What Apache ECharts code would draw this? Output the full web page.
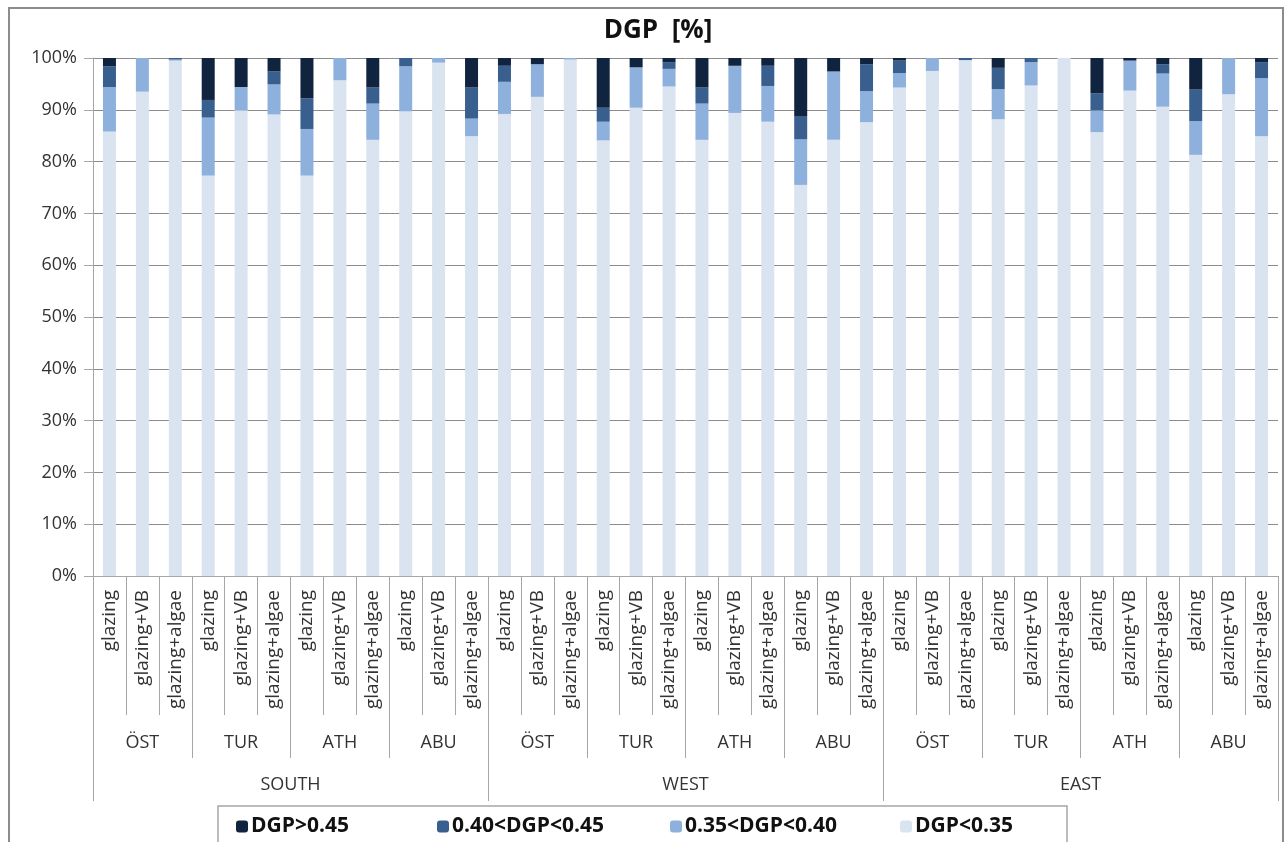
<!DOCTYPE html>
<html>
<head>
<meta charset="utf-8">
<title>DGP [%]</title>
<script src="https://cdn.jsdelivr.net/npm/echarts@6/dist/echarts.min.js"></script>
<style>
    html, body { margin: 0; padding: 0; background: #fff; }
    #chart { width: 1285px; height: 842px; }
</style>
</head>
<body>
<div id="chart"></div>
<script>
// categories, three levels
const glazingTypes = ['glazing', 'glazing+VB', 'glazing+algae']
const cities = ['ÖST', 'TUR', 'ATH', 'ABU']
const orientations = ['SOUTH', 'WEST', 'EAST']

// DGP share per bar [%], SOUTH (12) / WEST (12) / EAST (12)
const dgpBelow35 = [
    85.8, 93.5, 99.5, 77.3, 89.9, 89.1, 77.3, 95.7, 84.2, 89.7, 99.1, 84.9,
    89.2, 92.5, 99.7, 84.1, 90.4, 94.5, 84.2, 89.4, 87.7, 75.5, 84.2, 87.6,
    94.3, 97.5, 99.6, 88.2, 94.7, 100, 85.7, 93.7, 90.6, 81.3, 93.0, 84.9
]
const dgp35to40 = [
    8.6, 6.5, 0.2, 11.2, 4.5, 5.8, 9.0, 4.3, 7.0, 8.7, 0.9, 3.4,
    6.2, 6.3, 0.3, 3.6, 7.8, 3.4, 7.0, 9.1, 6.9, 8.8, 13.2, 6.0,
    2.8, 2.5, 0, 5.8, 4.5, 0, 4.2, 5.8, 6.4, 6.5, 7.0, 11.2
]
const dgp40to45 = [
    4.0, 0, 0.3, 3.4, 0, 2.5, 5.9, 0, 3.1, 1.6, 0, 6.0,
    3.1, 0, 0, 2.7, 0, 1.3, 3.1, 0, 3.9, 4.5, 0, 5.2,
    2.4, 0, 0.4, 4.1, 0.8, 0, 3.3, 0, 1.8, 6.1, 0, 3.1
]
const dgpAbove45 = [
    1.6, 0, 0, 8.1, 5.6, 2.6, 7.8, 0, 5.7, 0, 0, 5.7,
    1.5, 1.2, 0, 9.6, 1.8, 0.8, 5.7, 1.5, 1.5, 11.2, 2.6, 1.2,
    0.5, 0, 0, 1.9, 0, 0, 6.8, 0.5, 1.2, 6.1, 0, 0.8
]

const yTicks = [0, 100, 10]

const seriesNames = ['DGP>0.45', '0.40<DGP<0.45', '0.35<DGP<0.40', 'DGP<0.35']
const seriesColors = ['#10233f', '#395f8f', '#8eb0dc', '#dae3f0']

// flatten the category levels
var barLabels = []
var cityLabels = []
orientations.forEach(function () {
    cities.forEach(function (c) {
        cityLabels.push(c)
        glazingTypes.forEach(function (g) {
            barLabels.push(g)
        })
    })
})

var font = '"Open Sans", "Noto Sans", sans-serif'
var labelColor = '#333'
var lineColor = '#a6a6a6'

function makeLegend(name, left) {
    return {
        data: [name],
        left: left,
        top: 816,
        itemWidth: 12,
        itemHeight: 12,
        itemGap: 0,
        padding: 0,
        textStyle: { fontFamily: font, fontSize: 21, fontWeight: 'bold', color: '#111', padding: [0, 0, 0, -2] }
    }
}

function makeBar(name, values, color) {
    return {
        name: name,
        type: 'bar',
        stack: 'dgp',
        barWidth: 13,
        data: values,
        itemStyle: { color: color },
        emphasis: { disabled: true }
    }
}

var myChart = echarts.init(document.getElementById('chart'))

var option = {
    animation: false,
    backgroundColor: '#fff',
    grid: { left: 93, right: 7, top: 58, bottom: 266 },
    legend: [
        makeLegend(seriesNames[0], 236),
        makeLegend(seriesNames[1], 437),
        makeLegend(seriesNames[2], 670),
        makeLegend(seriesNames[3], 900)
    ],
    graphic: [
        {
            type: 'rect',
            shape: { x: 9, y: 8, width: 1274, height: 850 },
            style: { fill: 'none', stroke: '#8c8c8c', lineWidth: 2 },
            silent: true,
            z: -1
        },
        {
            type: 'rect',
            shape: { x: 218, y: 806, width: 849, height: 50 },
            style: { fill: '#fff', stroke: '#a6a6a6', lineWidth: 1.5 },
            silent: true,
            z: -1
        },
        {
            type: 'text',
            x: 658,
            y: 18,
            style: { text: 'DGP  [%]', fontFamily: font, fontSize: 26, fontWeight: 'bold', fill: '#111', textAlign: 'center' }
        }
    ],
    xAxis: [
        {
            type: 'category',
            data: barLabels,
            position: 'bottom',
            axisLine: { show: true, lineStyle: { color: lineColor } },
            axisTick: { show: true, interval: 0, length: 139, lineStyle: { color: lineColor } },
            axisLabel: { interval: 0, rotate: 90, margin: 14, fontFamily: font, fontSize: 19, color: labelColor }
        },
        {
            type: 'category',
            data: cityLabels,
            position: 'bottom',
            axisLine: { show: false },
            axisTick: { show: true, interval: 0, length: 182, lineStyle: { color: lineColor } },
            axisLabel: { interval: 0, margin: 158, fontFamily: font, fontSize: 18, color: labelColor }
        },
        {
            type: 'category',
            data: orientations,
            position: 'bottom',
            axisLine: { show: false },
            axisTick: { show: true, interval: 0, length: 225, lineStyle: { color: lineColor } },
            axisLabel: { interval: 0, margin: 200, fontFamily: font, fontSize: 18, color: labelColor }
        }
    ],
    yAxis: {
        type: 'value',
        min: yTicks[0],
        max: yTicks[1],
        interval: yTicks[2],
        axisLine: { show: true, lineStyle: { color: lineColor } },
        axisTick: { show: true, length: 9, lineStyle: { color: lineColor } },
        axisLabel: { formatter: '{value}%', margin: 16, fontFamily: font, fontSize: 18, color: labelColor },
        splitLine: { lineStyle: { color: '#8c8c8c' } }
    },
    series: [
        makeBar(seriesNames[3], dgpBelow35, seriesColors[3]),
        makeBar(seriesNames[2], dgp35to40, seriesColors[2]),
        makeBar(seriesNames[1], dgp40to45, seriesColors[1]),
        makeBar(seriesNames[0], dgpAbove45, seriesColors[0])
    ]
}

myChart.setOption(option)
</script>
</body>
</html>
